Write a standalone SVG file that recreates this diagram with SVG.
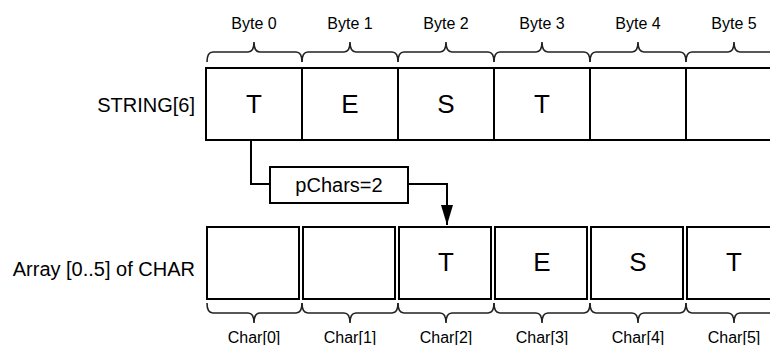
<svg xmlns="http://www.w3.org/2000/svg" width="770" height="345" viewBox="0 0 770 345">
<defs>
<style>
text{font-family:"Liberation Sans",Arial,sans-serif;fill:#000}
.lbl{font-size:16px;text-anchor:middle}
.big{font-size:26px;text-anchor:middle}
.side{font-size:20px;text-anchor:end}
.box{fill:#fff;stroke:#000;stroke-width:2}
.brace{fill:none;stroke:#222;stroke-width:1.6}
.conn{fill:none;stroke:#000;stroke-width:2}
</style>
<marker id="arr" viewBox="0 0 20 12" refX="20" refY="6" markerWidth="20" markerHeight="12" markerUnits="userSpaceOnUse" orient="auto">
<path d="M0,0 L20,6 L0,12 Z" fill="#000"/>
</marker>
</defs>
<rect width="770" height="345" fill="#fff"/>

<g id="string6">
<text class="side" x="195" y="112">STRING[6]</text>
<rect class="box" x="206" y="68" width="600" height="72"/>
<path class="conn" d="M302,68V140M398,68V140M494,68V140M590,68V140M686,68V140"/>
<g id="byte0"><path class="brace" d="M207,62Q207,52 213,52H248Q254,52 254,42Q254,52 260,52H296Q302,52 302,62"/><text class="lbl" x="254" y="29">Byte 0</text><text class="big" x="254" y="113">T</text></g>
<g id="byte1"><path class="brace" d="M302,62Q302,52 308,52H344Q350,52 350,42Q350,52 356,52H392Q398,52 398,62"/><text class="lbl" x="350" y="29">Byte 1</text><text class="big" x="350" y="113">E</text></g>
<g id="byte2"><path class="brace" d="M398,62Q398,52 404,52H440Q446,52 446,42Q446,52 452,52H488Q494,52 494,62"/><text class="lbl" x="446" y="29">Byte 2</text><text class="big" x="446" y="113">S</text></g>
<g id="byte3"><path class="brace" d="M494,62Q494,52 500,52H536Q542,52 542,42Q542,52 548,52H584Q590,52 590,62"/><text class="lbl" x="542" y="29">Byte 3</text><text class="big" x="542" y="113">T</text></g>
<g id="byte4"><path class="brace" d="M590,62Q590,52 596,52H632Q638,52 638,42Q638,52 644,52H680Q686,52 686,62"/><text class="lbl" x="638" y="29">Byte 4</text></g>
<g id="byte5"><path class="brace" d="M686,62Q686,52 692,52H728Q734,52 734,42Q734,52 740,52H776Q782,52 782,62"/><text class="lbl" x="734" y="29">Byte 5</text></g>
</g>

<g id="pchars">
<rect class="box" x="270" y="167" width="138" height="36"/>
<text x="339" y="192" style="font-size:20px;text-anchor:middle">pChars=2</text>
</g>

<g id="array">
<text class="side" x="195" y="276">Array [0..5] of CHAR</text>
<g id="char0"><rect class="box" x="207" y="227" width="92" height="72"/><path class="brace" d="M207,303Q207,313 213,313H248Q254,313 254,323Q254,313 260,313H296Q302,313 302,303"/><text class="lbl" x="254" y="343">Char[0]</text></g>
<g id="char1"><rect class="box" x="303" y="227" width="92" height="72"/><path class="brace" d="M302,303Q302,313 308,313H344Q350,313 350,323Q350,313 356,313H392Q398,313 398,303"/><text class="lbl" x="350" y="343">Char[1]</text></g>
<g id="char2"><rect class="box" x="399" y="227" width="92" height="72"/><path class="brace" d="M398,303Q398,313 404,313H440Q446,313 446,323Q446,313 452,313H488Q494,313 494,303"/><text class="lbl" x="446" y="343">Char[2]</text><text class="big" x="446" y="271">T</text></g>
<g id="char3"><rect class="box" x="495" y="227" width="92" height="72"/><path class="brace" d="M494,303Q494,313 500,313H536Q542,313 542,323Q542,313 548,313H584Q590,313 590,303"/><text class="lbl" x="542" y="343">Char[3]</text><text class="big" x="542" y="271">E</text></g>
<g id="char4"><rect class="box" x="591" y="227" width="92" height="72"/><path class="brace" d="M590,303Q590,313 596,313H632Q638,313 638,323Q638,313 644,313H680Q686,313 686,303"/><text class="lbl" x="638" y="343">Char[4]</text><text class="big" x="638" y="271">S</text></g>
<g id="char5"><rect class="box" x="687" y="227" width="92" height="72"/><path class="brace" d="M686,303Q686,313 692,313H728Q734,313 734,323Q734,313 740,313H776Q782,313 782,303"/><text class="lbl" x="734" y="343">Char[5]</text><text class="big" x="734" y="271">T</text></g>
</g>

<g id="connectors">
<path class="conn" d="M251,140V184H270"/>
<path class="conn" d="M408,184H447V225" marker-end="url(#arr)"/>
</g>
</svg>
